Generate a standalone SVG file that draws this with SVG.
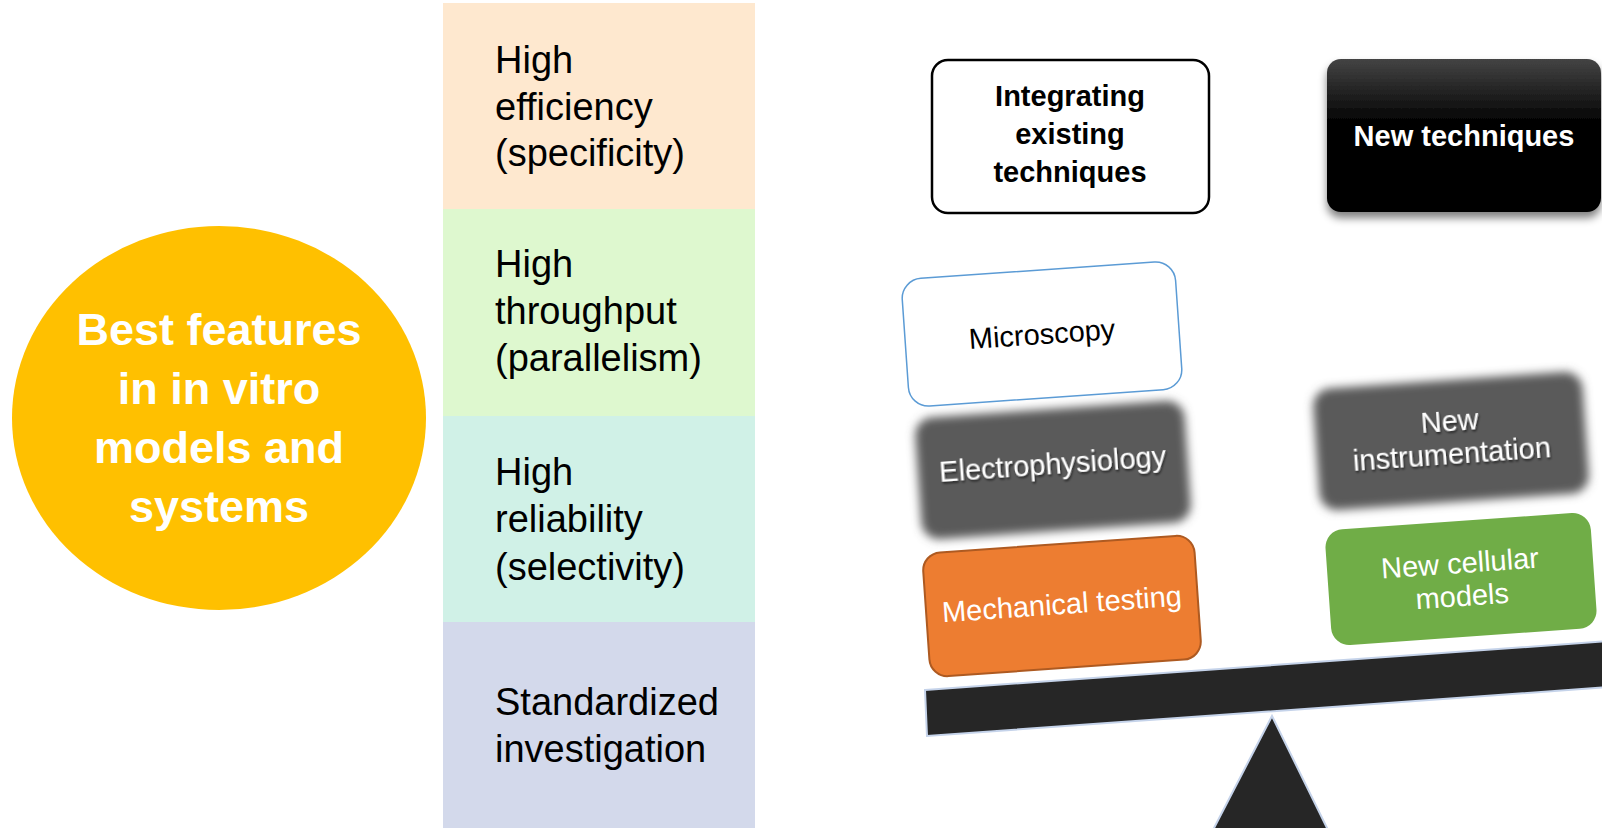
<svg xmlns="http://www.w3.org/2000/svg" width="1602" height="828" viewBox="0 0 1602 828">
<defs>
<filter id="soft" x="-20%" y="-30%" width="140%" height="160%"><feGaussianBlur stdDeviation="5"/></filter>
<filter id="shadow" x="-10%" y="-10%" width="120%" height="130%"><feGaussianBlur in="SourceAlpha" stdDeviation="4"/><feOffset dx="0" dy="6"/><feComponentTransfer><feFuncA type="linear" slope="0.5"/></feComponentTransfer><feMerge><feMergeNode/><feMergeNode in="SourceGraphic"/></feMerge></filter>
<filter id="tshadow" x="-10%" y="-30%" width="120%" height="160%"><feGaussianBlur in="SourceAlpha" stdDeviation="1.2"/><feOffset dx="1" dy="2"/><feComponentTransfer><feFuncA type="linear" slope="0.6"/></feComponentTransfer><feMerge><feMergeNode/><feMergeNode in="SourceGraphic"/></feMerge></filter>
<linearGradient id="blackgrad" x1="0" y1="0" x2="0" y2="1"><stop offset="0" stop-color="#444"/><stop offset="0.4" stop-color="#050505"/><stop offset="1" stop-color="#000"/></linearGradient>
</defs>
<style>
text{font-family:"Liberation Sans",Arial,sans-serif}
.col{font-size:38px;fill:#000}
.circ{font-size:45px;font-weight:bold;fill:#fff}
.top{font-size:29px;font-weight:bold;text-anchor:middle}
.inner{font-size:29px;text-anchor:middle}
.w{fill:#fff}
.k{fill:#000}
</style>
<rect width="1602" height="828" fill="#fff"/>

<g id="circle">
<ellipse cx="219" cy="418" rx="207" ry="192" fill="#FFC000"/>
<text class="circ" text-anchor="middle"><tspan x="219" y="345">Best features</tspan><tspan x="219" y="404">in in vitro</tspan><tspan x="219" y="463">models and</tspan><tspan x="219" y="522">systems</tspan></text>
</g>

<g id="feat-efficiency">
<rect x="443" y="3" width="312" height="206" fill="#FEE8CF"/>
<text class="col"><tspan x="495" y="73">High</tspan><tspan x="495" y="120">efficiency</tspan><tspan x="495" y="166">(specificity)</tspan></text>
</g>
<g id="feat-throughput">
<rect x="443" y="209" width="312" height="207" fill="#DEF8CF"/>
<text class="col"><tspan x="495" y="277">High</tspan><tspan x="495" y="324">throughput</tspan><tspan x="495" y="371">(parallelism)</tspan></text>
</g>
<g id="feat-reliability">
<rect x="443" y="416" width="312" height="206" fill="#D0F1E7"/>
<text class="col"><tspan x="495" y="485">High</tspan><tspan x="495" y="532">reliability</tspan><tspan x="495" y="580">(selectivity)</tspan></text>
</g>
<g id="feat-standardized">
<rect x="443" y="622" width="312" height="206" fill="#D3D9EB"/>
<text class="col"><tspan x="495" y="715">Standardized</tspan><tspan x="495" y="762">investigation</tspan></text>
</g>

<g id="integrating">
<rect x="932" y="60" width="277" height="153" rx="16" fill="#fff" stroke="#000" stroke-width="2.5"/>
<text class="top k"><tspan x="1070" y="106">Integrating</tspan><tspan x="1070" y="144">existing</tspan><tspan x="1070" y="182">techniques</tspan></text>
</g>

<g id="new-techniques">
<rect x="1327" y="59" width="274" height="153" rx="14" fill="url(#blackgrad)" filter="url(#shadow)"/>
<text class="top w" x="1464" y="146">New techniques</text>
</g>

<g id="balance">
<polygon points="1272,716 1213,830 1328,830" fill="#262626" stroke="#C5D3EA" stroke-width="2"/>
<polygon points="925,690 1610,641 1610,687 927,736" fill="#262626" stroke="#C5D3EA" stroke-width="2"/>
</g>

<g id="microscopy" transform="translate(1042,334) rotate(-4)">
<rect x="-137" y="-64" width="274" height="128" rx="20" fill="#fff" stroke="#5B9BD5" stroke-width="1.5"/>
<text class="inner k" x="0" y="10">Microscopy</text>
</g>

<g id="electrophysiology" transform="translate(1053,470) rotate(-4)">
<rect x="-135" y="-61" width="270" height="122" rx="18" fill="#5A5A5A" filter="url(#soft)"/>
<text class="inner w" x="0" y="4" filter="url(#tshadow)">Electrophysiology</text>
</g>

<g id="mechanical" transform="translate(1062,606) rotate(-4)">
<rect x="-136" y="-62" width="272" height="124" rx="18" fill="#ED7D31" stroke="#AE5A21" stroke-width="2"/>
<text class="inner w" x="0" y="8">Mechanical testing</text>
</g>

<g id="instrumentation" transform="translate(1451,441) rotate(-4)">
<rect x="-135" y="-61" width="270" height="122" rx="18" fill="#5A5A5A" filter="url(#soft)"/>
<text class="inner w" filter="url(#tshadow)"><tspan x="0" y="-10">New</tspan><tspan x="0" y="23">instrumentation</tspan></text>
</g>

<g id="cellular" transform="translate(1461,579) rotate(-4)">
<rect x="-133" y="-58" width="266" height="116" rx="18" fill="#70AD47"/>
<text class="inner w"><tspan x="0" y="-6">New cellular</tspan><tspan x="0" y="27">models</tspan></text>
</g>
<g id="connectors"/>
</svg>
